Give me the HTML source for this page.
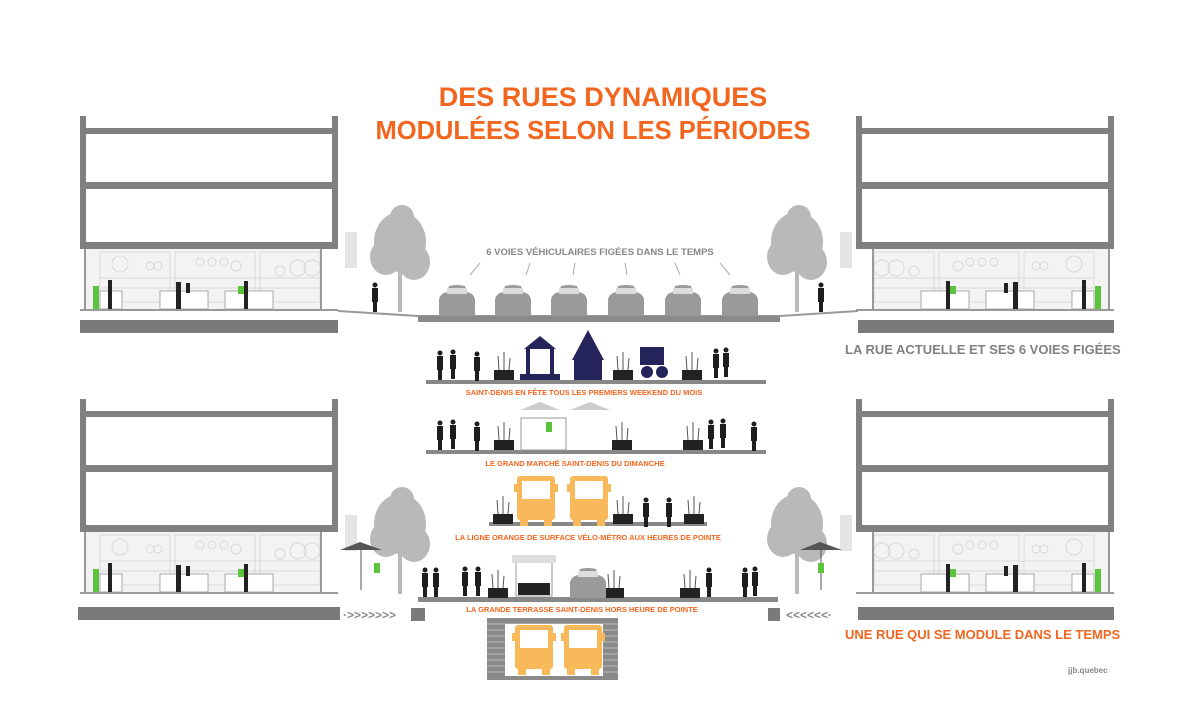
<!DOCTYPE html>
<html><head><meta charset="utf-8"><style>
html,body{margin:0;padding:0;background:#fff}
svg{display:block}
text{font-family:"Liberation Sans",sans-serif;font-weight:bold}
</style></head><body>
<svg width="1200" height="720" viewBox="0 0 1200 720" xmlns="http://www.w3.org/2000/svg">
<defs>
 <g id="bldg">
  <rect x="0" y="0" width="6" height="132" fill="#808080"/>
  <rect x="252" y="0" width="6" height="132" fill="#808080"/>
  <rect x="0" y="12" width="258" height="6" fill="#808080"/>
  <rect x="0" y="66" width="258" height="7" fill="#808080"/>
  <rect x="0" y="126" width="258" height="7" fill="#808080"/>
  <rect x="6" y="18" width="246" height="48" fill="#fff"/>
  <rect x="6" y="73" width="246" height="53" fill="#fff"/>
  <rect x="4" y="133" width="238" height="60" fill="#f3f3f3"/>
  <g fill="none" stroke="#d8d8d8" stroke-width="1">
   <rect x="20" y="136" width="70" height="50"/><rect x="95" y="136" width="80" height="50"/><rect x="180" y="136" width="60" height="50"/>
   <circle cx="40" cy="148" r="8"/><circle cx="70" cy="150" r="4"/><circle cx="78" cy="150" r="4"/>
   <circle cx="120" cy="146" r="4"/><circle cx="132" cy="146" r="4"/><circle cx="144" cy="146" r="4"/><circle cx="156" cy="150" r="5"/>
   <circle cx="200" cy="155" r="5"/><circle cx="218" cy="152" r="8"/><circle cx="232" cy="152" r="8"/>
   <line x1="20" y1="162" x2="240" y2="162"/><line x1="20" y1="172" x2="240" y2="172"/>
  </g>
  <rect x="240" y="133" width="2" height="60" fill="#999"/>
  <rect x="4" y="133" width="2" height="60" fill="#999"/>
  <g fill="#fff" stroke="#aaa">
   <rect x="20" y="175" width="22" height="18"/><rect x="80" y="175" width="48" height="18"/><rect x="145" y="175" width="48" height="18"/>
  </g>
  <g fill="#222">
   <rect x="28" y="164" width="4" height="29"/><rect x="96" y="166" width="5" height="27"/><rect x="106" y="167" width="4" height="10"/><rect x="164" y="165" width="4" height="28"/>
  </g>
  <rect x="13" y="170" width="6" height="23" fill="#5cc43c"/>
  <rect x="158" y="170" width="6" height="8" fill="#5cc43c"/>
  <rect x="0" y="193" width="258" height="2" fill="#999"/>
 </g>
 <g id="tree" fill="#b9b9b9">
  <ellipse cx="0" cy="-70" rx="26" ry="30"/>
  <ellipse cx="-14" cy="-55" rx="16" ry="18"/>
  <ellipse cx="14" cy="-50" rx="16" ry="18"/>
  <ellipse cx="2" cy="-95" rx="12" ry="12"/>
  <rect x="-2" y="-50" width="4" height="50"/>
 </g>
 <g id="car" fill="#9a9a9a">
  <path d="M2,30 L2,14 Q4,8 10,7 L12,1 Q20,-1 28,1 L30,7 Q36,8 38,14 L38,30 Z"/>
  <rect x="10" y="3" width="20" height="6" fill="#ddd"/>
 </g>
 <g id="p" fill="#1e1e1e"><circle cx="3" cy="2" r="2.5"/><rect x="0" y="5" width="6" height="14"/><rect x="1" y="19" width="4" height="10"/></g>
 <g id="pl"><rect x="0" y="18" width="20" height="10" fill="#222"/><g stroke="#555" stroke-width="1"><line x1="5" y1="18" x2="4" y2="4"/><line x1="10" y1="18" x2="10" y2="0"/><line x1="15" y1="18" x2="16" y2="6"/></g></g>
 <g id="bus" fill="#f7b95a">
  <rect x="0" y="0" width="38" height="44" rx="3"/>
  <rect x="5" y="5" width="28" height="18" fill="#fff"/>
  <rect x="-3" y="8" width="3" height="8"/><rect x="38" y="8" width="3" height="8"/>
  <rect x="3" y="44" width="8" height="6"/><rect x="27" y="44" width="8" height="6"/>
 </g>
</defs>

<text x="603" y="106" font-size="27" fill="#f2661f" text-anchor="middle">DES RUES DYNAMIQUES</text>
<text x="593" y="139" font-size="25.5" fill="#f2661f" text-anchor="middle">MODULÉES SELON LES PÉRIODES</text>

<use href="#bldg" x="80" y="116"/>
<g transform="translate(1114,116) scale(-1,1)"><use href="#bldg"/></g>
<rect x="80" y="320" width="258" height="13" fill="#7a7a7a"/>
<rect x="858" y="320" width="256" height="13" fill="#7a7a7a"/>
<rect x="345" y="232" width="12" height="36" fill="#e4e4e4"/>
<rect x="840" y="232" width="12" height="36" fill="#e4e4e4"/>
<use href="#tree" x="400" y="312"/>
<use href="#tree" x="797" y="312"/>
<use href="#p" x="372" y="283"/><use href="#p" x="818" y="283"/>
<path d="M338,311 L418,316 L780,316 L858,311" fill="none" stroke="#999" stroke-width="2"/>
<rect x="418" y="316" width="362" height="6" fill="#8a8a8a"/>
<text x="600" y="255" font-size="9.5" fill="#888" text-anchor="middle">6 VOIES VÉHICULAIRES FIGÉES DANS LE TEMPS</text>
<g stroke="#aaa" stroke-width="1">
 <line x1="480" y1="263" x2="470" y2="275"/><line x1="530" y1="263" x2="526" y2="275"/><line x1="575" y1="263" x2="573" y2="275"/>
 <line x1="625" y1="263" x2="627" y2="275"/><line x1="675" y1="263" x2="680" y2="275"/><line x1="720" y1="263" x2="730" y2="275"/>
</g>
<use href="#car" x="437" y="285"/><use href="#car" x="493" y="285"/><use href="#car" x="549" y="285"/>
<use href="#car" x="606" y="285"/><use href="#car" x="663" y="285"/><use href="#car" x="720" y="285"/>
<text x="845" y="354" font-size="13" fill="#808080">LA RUE ACTUELLE ET SES 6 VOIES FIGÉES</text>

<rect x="426" y="380" width="340" height="4" fill="#888"/>
<use href="#p" x="437" y="351"/><use href="#p" x="450" y="350"/><use href="#p" x="474" y="352"/>
<use href="#pl" x="494" y="352"/><use href="#pl" x="613" y="352"/><use href="#pl" x="682" y="352"/>
<g fill="#25245a">
 <path d="M524,349 L540,336 L556,349 Z"/><rect x="526" y="349" width="4" height="30"/><rect x="550" y="349" width="4" height="30"/><rect x="520" y="374" width="40" height="6"/>
 <path d="M572,360 L588,330 L604,360 Z"/><rect x="574" y="360" width="28" height="20"/>
 <rect x="640" y="347" width="24" height="18"/><circle cx="647" cy="372" r="6"/><circle cx="662" cy="372" r="6"/>
</g>
<use href="#p" x="713" y="349"/><use href="#p" x="723" y="348"/>
<text x="584" y="395" font-size="7.5" fill="#f2661f" text-anchor="middle">SAINT-DENIS EN FÊTE TOUS LES PREMIERS WEEKEND DU MOIS</text>

<rect x="426" y="450" width="340" height="4" fill="#888"/>
<use href="#p" x="437" y="421"/><use href="#p" x="450" y="420"/><use href="#p" x="474" y="422"/>
<use href="#pl" x="494" y="422"/><use href="#pl" x="612" y="422"/><use href="#pl" x="683" y="422"/>
<path d="M520,410 L540,402 L560,410 Z M570,410 L590,402 L610,410 Z" fill="#ccc"/>
<rect x="521" y="418" width="45" height="32" fill="none" stroke="#999"/>
<rect x="546" y="422" width="6" height="10" fill="#5cc43c"/>
<use href="#p" x="708" y="420"/><use href="#p" x="720" y="419"/><use href="#p" x="751" y="422"/>
<text x="575" y="466" font-size="7.5" fill="#f2661f" text-anchor="middle">LE GRAND MARCHÉ SAINT-DENIS DU DIMANCHE</text>

<rect x="489" y="522" width="218" height="4" fill="#888"/>
<use href="#pl" x="493" y="496"/><use href="#pl" x="613" y="496"/><use href="#pl" x="684" y="496"/>
<use href="#bus" x="517" y="476"/><use href="#bus" x="570" y="476"/>
<use href="#p" x="643" y="498"/><use href="#p" x="666" y="498"/>
<text x="588" y="540" font-size="7.5" fill="#f2661f" text-anchor="middle">LA LIGNE ORANGE DE SURFACE VÉLO-MÉTRO AUX HEURES DE POINTE</text>

<use href="#bldg" x="80" y="399"/>
<g transform="translate(1114,399) scale(-1,1)"><use href="#bldg"/></g>
<rect x="345" y="515" width="12" height="36" fill="#e4e4e4"/>
<rect x="840" y="515" width="12" height="36" fill="#e4e4e4"/>
<use href="#tree" x="400" y="594"/>
<use href="#tree" x="797" y="594"/>
<path d="M340,550 L360,542 L382,550 Z M800,550 L820,542 L842,550 Z" fill="#555"/>
<line x1="361" y1="550" x2="361" y2="590" stroke="#555"/><line x1="821" y1="550" x2="821" y2="590" stroke="#555"/>
<rect x="374" y="563" width="6" height="10" fill="#5cc43c"/><rect x="818" y="563" width="6" height="10" fill="#5cc43c"/>
<rect x="418" y="597" width="360" height="5" fill="#888"/>
<use href="#p" x="422" y="568"/><use href="#p" x="433" y="568"/><use href="#p" x="462" y="567"/><use href="#p" x="475" y="567"/>
<use href="#pl" x="488" y="570"/><use href="#pl" x="604" y="570"/><use href="#pl" x="680" y="570"/>
<g fill="#fff" stroke="#999"><rect x="516" y="560" width="36" height="36"/></g>
<rect x="512" y="555" width="44" height="8" fill="#ddd"/>
<rect x="518" y="583" width="32" height="12" fill="#222"/>
<use href="#car" x="568" y="568"/>
<use href="#p" x="706" y="568"/><use href="#p" x="742" y="568"/><use href="#p" x="752" y="567"/>
<text x="582" y="612" font-size="7.5" fill="#f2661f" text-anchor="middle">LA GRANDE TERRASSE SAINT-DENIS HORS HEURE DE POINTE</text>

<rect x="78" y="607" width="262" height="13" fill="#7a7a7a"/>
<rect x="858" y="607" width="256" height="13" fill="#7a7a7a"/>
<rect x="411" y="608" width="14" height="13" fill="#7a7a7a"/>
<rect x="768" y="608" width="12" height="13" fill="#7a7a7a"/>
<text x="343" y="619" font-size="12" fill="#888" font-weight="normal">·&gt;&gt;&gt;&gt;&gt;&gt;&gt;</text>
<text x="786" y="619" font-size="12" fill="#888" font-weight="normal">&lt;&lt;&lt;&lt;&lt;&lt;·</text>

<rect x="487" y="618" width="131" height="62" fill="#8a8a8a"/>
<g stroke="#bbb" stroke-width="1">
 <line x1="487" y1="624" x2="618" y2="624"/><line x1="487" y1="630" x2="618" y2="630"/><line x1="487" y1="636" x2="618" y2="636"/>
 <line x1="487" y1="642" x2="618" y2="642"/><line x1="487" y1="648" x2="618" y2="648"/><line x1="487" y1="654" x2="618" y2="654"/>
 <line x1="487" y1="660" x2="618" y2="660"/><line x1="487" y1="666" x2="618" y2="666"/><line x1="487" y1="672" x2="618" y2="672"/>
</g>
<rect x="505" y="624" width="98" height="52" fill="#fff"/>
<use href="#bus" x="515" y="625"/>
<use href="#bus" x="564" y="625"/>

<text x="845" y="639" font-size="13" fill="#f2661f">UNE RUE QUI SE MODULE DANS LE TEMPS</text>
<text x="1068" y="673" font-size="8" fill="#888" font-weight="normal">jjb.quebec</text>
</svg>
</body></html>
